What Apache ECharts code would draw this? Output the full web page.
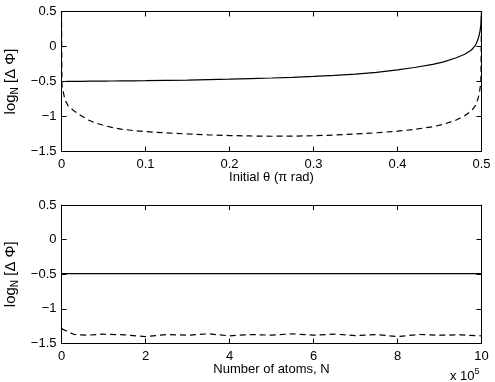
<!DOCTYPE html>
<html>
<head>
<meta charset="utf-8">
<script src="https://cdn.jsdelivr.net/npm/echarts@6/dist/echarts.min.js"></script>
<style>
  html, body { margin: 0; padding: 0; background: #fff; }
  #chart { width: 495px; height: 382px; }
</style>
</head>
<body>
<div id="chart"></div>
<script>
// top panel: initial theta (pi rad)
const thetaX = [0, 0.0005, 0.002, 0.004, 0.008, 0.016, 0.025, 0.032, 0.04, 0.051, 0.06, 0.071, 0.085, 0.1, 0.125, 0.15, 0.175, 0.2, 0.225, 0.25, 0.275, 0.3, 0.325, 0.35, 0.375, 0.4, 0.42, 0.442, 0.455, 0.47, 0.48, 0.488, 0.493, 0.496, 0.498, 0.4993, 0.5];
const thetaSolid = [-0.5, -0.5, -0.5, -0.5, -0.499, -0.498, -0.497, -0.496, -0.495, -0.494, -0.493, -0.492, -0.49, -0.488, -0.484, -0.479, -0.473, -0.467, -0.459, -0.45, -0.44, -0.428, -0.413, -0.395, -0.37, -0.335, -0.3, -0.255, -0.22, -0.16, -0.11, -0.05, 0.02, 0.11, 0.2, 0.32, 0.5];
const thetaDashed = [0.5, -0.55, -0.64, -0.76, -0.85, -0.93, -1.0, -1.05, -1.09, -1.13, -1.155, -1.18, -1.2, -1.215, -1.235, -1.25, -1.262, -1.272, -1.278, -1.282, -1.28, -1.275, -1.265, -1.25, -1.232, -1.21, -1.185, -1.146, -1.11, -1.05, -0.99, -0.92, -0.84, -0.74, -0.62, -0.5, 0.5];

// bottom panel: number of atoms, N (x 10^5)
const atomsX = [0, 0.15, 0.3, 0.6, 1, 1.5, 2, 2.5, 3, 3.5, 4, 4.5, 5, 5.5, 6, 6.5, 7, 7.5, 8, 8.5, 9, 9.5, 10];
const atomsSolid = [-0.49, -0.49, -0.49, -0.49, -0.49, -0.49, -0.49, -0.49, -0.49, -0.49, -0.49, -0.49, -0.49, -0.49, -0.49, -0.49, -0.49, -0.49, -0.49, -0.49, -0.49, -0.49, -0.49];
const atomsDashed = [-1.285, -1.33, -1.37, -1.38, -1.365, -1.375, -1.4, -1.37, -1.38, -1.36, -1.39, -1.37, -1.38, -1.36, -1.38, -1.365, -1.385, -1.37, -1.4, -1.37, -1.38, -1.375, -1.39];

const yTicks = { min: -1.5, max: 0.5, interval: 0.5 };
const thetaTicks = { min: 0, max: 0.5, interval: 0.1 };
const atomsTicks = { min: 0, max: 10, interval: 2 };

const font = 'Liberation Sans, Arial, sans-serif';
const ink = '#000';
const minus = (v) => String(v).replace('-', '\u2212');

function xAxes(gridIndex, ticks, name) {
  const base = {
    type: 'value', gridIndex, ...ticks,
    axisLine: { show: true, onZero: false, lineStyle: { color: ink, width: 1 } },
    axisTick: { show: true, inside: true, length: 5, lineStyle: { color: ink } },
    splitLine: { show: false }
  };
  return [
    {
      ...base, position: 'bottom', name,
      nameLocation: 'middle', nameGap: 19,
      nameTextStyle: { color: ink, fontSize: 13, fontFamily: font },
      axisLabel: { color: ink, fontSize: 13, fontFamily: font, margin: 6 }
    },
    { ...base, position: 'top', axisLabel: { show: false } }
  ];
}

function yAxes(gridIndex) {
  const base = {
    type: 'value', gridIndex, ...yTicks,
    axisLine: { show: true, onZero: false, lineStyle: { color: ink, width: 1 } },
    axisTick: { show: true, inside: true, length: 5, lineStyle: { color: ink } },
    splitLine: { show: false }
  };
  return [
    {
      ...base, position: 'left',
      name: 'log{sub|N} [\u0394 \u03a6]',
      nameLocation: 'middle', nameGap: 40,
      nameTextStyle: {
        color: ink, fontSize: 15, fontFamily: font,
        rich: { sub: { fontSize: 10, fontFamily: font, color: ink, padding: [9, 0, 0, 0] } }
      },
      axisLabel: { color: ink, fontSize: 13, fontFamily: font, margin: 5, formatter: minus }
    },
    { ...base, position: 'right', axisLabel: { show: false } }
  ];
}

function line(xi, yi, xs, ys, dashed) {
  return {
    type: 'line', xAxisIndex: xi, yAxisIndex: yi,
    data: xs.map((x, i) => [x, ys[i]]),
    showSymbol: false, smooth: false, animation: false,
    lineStyle: { color: ink, width: 1.2, type: dashed ? [6, 4] : 'solid' }
  };
}

const chart = echarts.init(document.getElementById('chart'), null, { renderer: 'canvas' });
chart.setOption({
  backgroundColor: '#fff',
  animation: false,
  grid: [
    { left: 61.5, top: 11.5, width: 420, height: 140, outerBoundsMode: 'none', containLabel: false },
    { left: 61.5, top: 205, width: 420, height: 138.5, outerBoundsMode: 'none', containLabel: false }
  ],
  xAxis: [...xAxes(0, thetaTicks, 'Initial \u03b8 (\u03c0 rad)'), ...xAxes(1, atomsTicks, 'Number of atoms, N')],
  yAxis: [...yAxes(0), ...yAxes(1)],
  series: [
    line(0, 0, thetaX, thetaSolid, false),
    line(0, 0, thetaX, thetaDashed, true),
    line(2, 2, atomsX, atomsSolid, false),
    line(2, 2, atomsX, atomsDashed, true)
  ],
  graphic: [{
    type: 'text', left: 450, top: 367,
    style: {
      text: 'x 10{sup|5}', fill: ink, fontSize: 13, fontFamily: font,
      rich: { sup: { fontSize: 9, fontFamily: font, fill: ink, padding: [0, 0, 9, 0] } }
    }
  }]
});
</script>
</body>
</html>
